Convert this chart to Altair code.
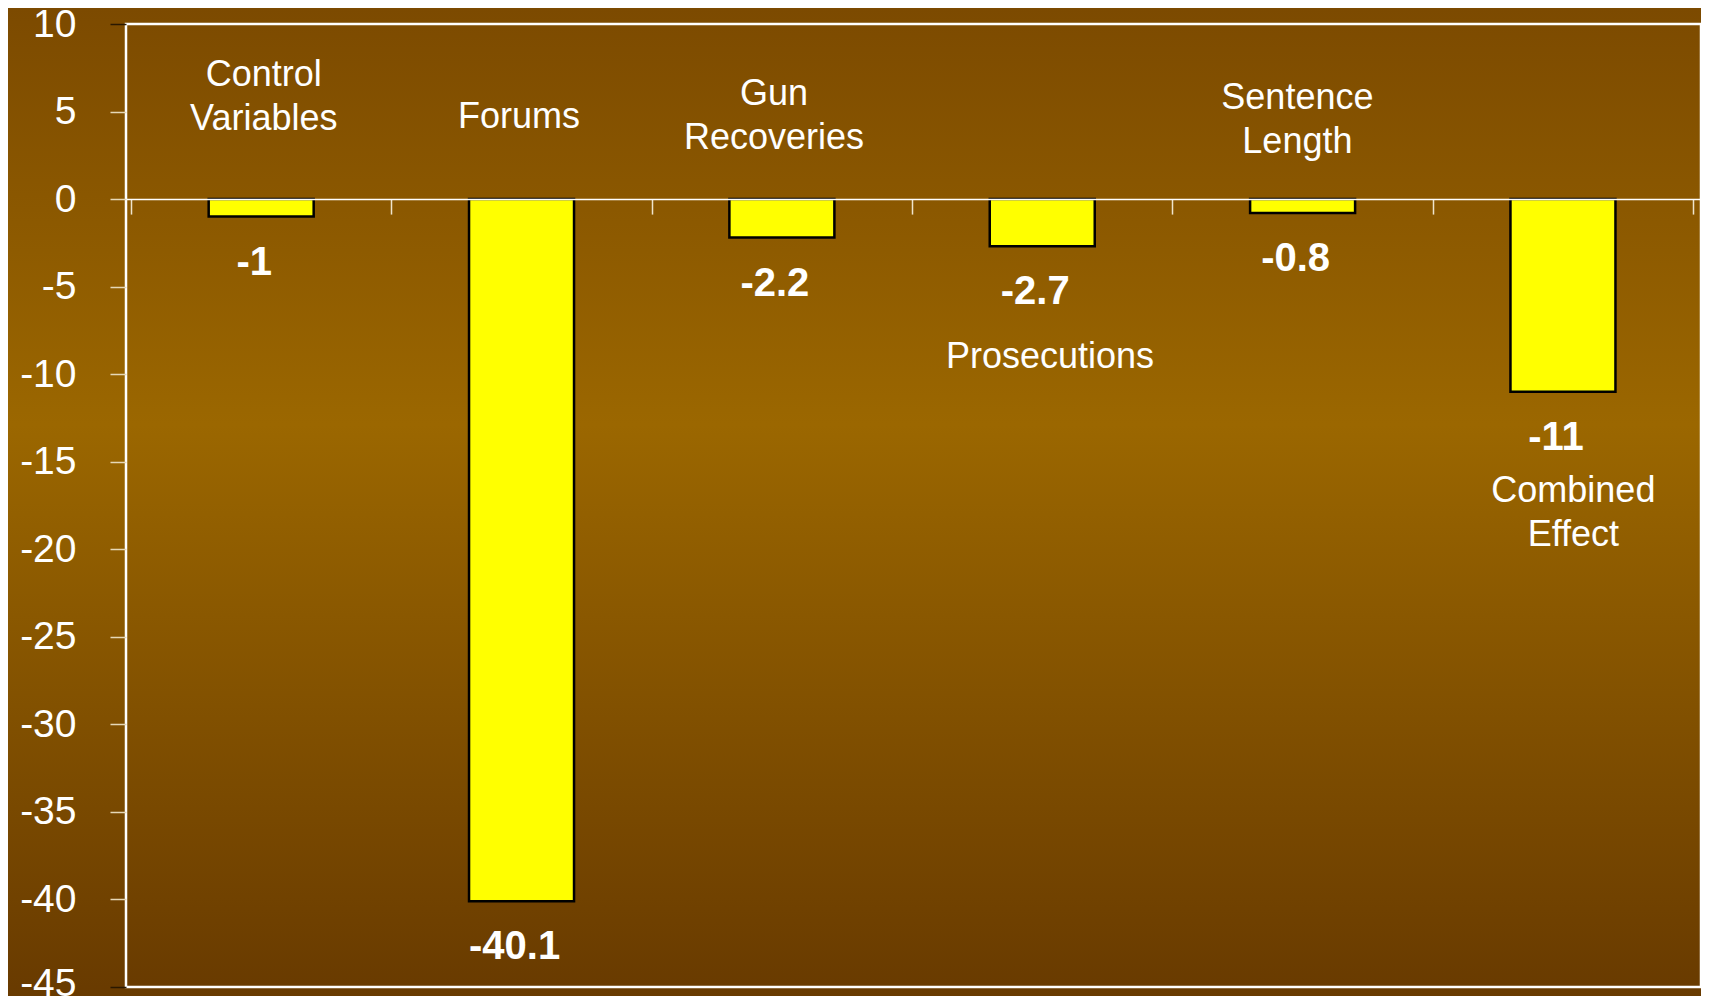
import altair as alt
import pandas as pd

# ---- data ----
categories = ["Control Variables", "Forums", "Gun Recoveries", "Prosecutions",
              "Sentence Length", "Combined Effect"]
values = [-1, -40.1, -2.2, -2.7, -0.8, -11]
value_text = ["-1", "-40.1", "-2.2", "-2.7", "-0.8", "-11"]
label_text = ["Control\nVariables", "Forums", "Gun\nRecoveries", "Prosecutions",
              "Sentence\nLength", "Combined\nEffect"]
# annotation anchors (first line), in category-index units / value units
label_x = [0.51, 1.49, 2.47, 3.53, 4.48, 5.54]
label_y = [7.09, 4.69, 6.0, -9.02, 5.77, -16.7]
y_ticks = [10, 5, 0, -5, -10, -15, -20, -25, -30, -35, -40, -45]
x_ticks = [0, 1, 2, 3, 4, 5, 6]

W, H = 1575, 963
Y_MIN, Y_MAX = -45, 10
X_MAX = 6.011
FONT = "Liberation Sans"

bars_df = pd.DataFrame({
    "cat": categories,
    "idx": list(range(len(categories))),
    "value": values,
    "vtext": value_text,
})
labels_df = pd.DataFrame({"text": label_text, "lx": label_x, "ly": label_y})
one = pd.DataFrame({"k": [0]})

xscale = alt.Scale(domain=[0, X_MAX], nice=False, zero=False)
yscale = alt.Scale(domain=[Y_MIN, Y_MAX], nice=False, zero=False)

zero_offset = -(H - H * Y_MAX / (Y_MAX - Y_MIN))

gradient = {
    "gradient": "linear", "x1": 0, "y1": 0, "x2": 0, "y2": 1,
    "stops": [
        {"offset": 0.0, "color": "#7c4a00"},
        {"offset": 0.42, "color": "#9b6700"},
        {"offset": 1.0, "color": "#683a00"},
    ],
}

bg = alt.Chart(one).mark_rect(fill=gradient).encode(
    x=alt.value(-118), x2=alt.value(W + 4),
    y=alt.value(-16), y2=alt.value(H + 12),
)

bars = alt.Chart(bars_df).transform_calculate(
    xc="datum.idx + 0.5"
).mark_bar(size=105, fill="#FFFF00", stroke="black", strokeWidth=2.5).encode(
    x=alt.X("xc:Q", scale=xscale,
            axis=alt.Axis(orient="bottom", offset=zero_offset, values=x_ticks,
                          labels=False, title=None, grid=False,
                          domainColor="white", domainWidth=1.5,
                          tickColor="#efe4cc", tickSize=15, tickWidth=1.5,
                          zindex=1)),
    y=alt.Y("value:Q", scale=yscale,
            axis=alt.Axis(values=y_ticks, title=None, grid=False, domain=False,
                          tickColor={"condition": {"test": "datum.value == 10 || datum.value == -45",
                                                   "value": "#2a1800"},
                                     "value": "#e6d8b8"},
                          tickSize=16, tickWidth=1.5,
                          labelPadding=34, labelColor="white", labelFont=FONT,
                          labelFontSize=39, labelExpr="toString(datum.value)",
                          labelOffset={"condition": {"test": "datum.value == -45", "value": -4},
                                       "value": 0},
                          zindex=1)),
    y2=alt.datum(0),
)

values_txt = alt.Chart(bars_df).transform_calculate(
    xc="datum.idx + 0.5"
).mark_text(font=FONT, fontSize=40, fontWeight="bold", color="white",
            baseline="middle", align="center", dy=46, dx=-7).encode(
    x=alt.X("xc:Q", scale=xscale),
    y=alt.Y("value:Q", scale=yscale),
    text="vtext:N",
)

cat_txt = alt.Chart(labels_df).mark_text(
    font=FONT, fontSize=36, color="white", baseline="middle", align="center",
    lineBreak="\n", lineHeight=44,
).encode(
    x=alt.X("lx:Q", scale=xscale),
    y=alt.Y("ly:Q", scale=yscale),
    text="text:N",
)

frame = alt.Chart(one).mark_rect(filled=False, stroke="white", strokeWidth=2.5).encode(
    x=alt.value(0), x2=alt.value(W), y=alt.value(0), y2=alt.value(H),
)

chart = alt.layer(bg, bars, values_txt, cat_txt, frame).properties(
    width=W, height=H,
    autosize=alt.AutoSizeParams(type="none"),
    padding={"left": 118, "top": 16, "right": 0, "bottom": 9},
    background="#7c4a00",
).configure_view(stroke=None)

chart.save("out.html", embed_options={"renderer": "svg", "actions": False})
